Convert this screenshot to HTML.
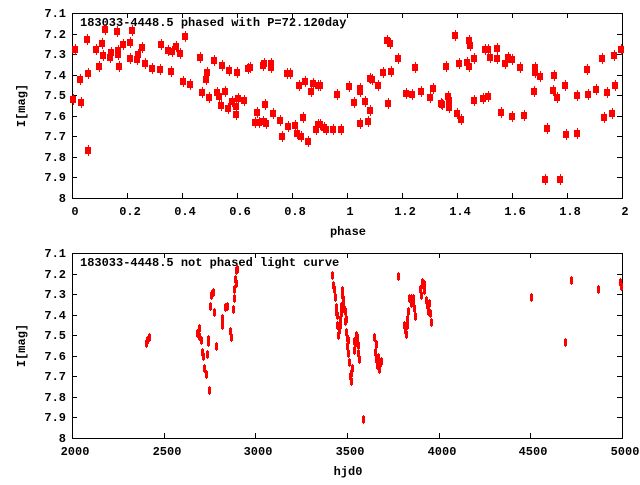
<!DOCTYPE html>
<html><head><meta charset="utf-8"><style>
html,body{margin:0;padding:0;background:#fff;}
svg text{font-family:"Liberation Mono","DejaVu Sans Mono",monospace;font-weight:bold;font-size:12px;fill:#000;}
</style></head><body>
<svg id="s" width="640" height="480" xmlns="http://www.w3.org/2000/svg" shape-rendering="crispEdges"></svg>
<script>
const S=document.getElementById('s');let h='';
function axes(top,bot,xt,title,xlabel){
  const L=72,R=622;
  h+=`<rect x="${L}.5" y="${top}.5" width="${R-L}" height="${bot-top}" fill="none" stroke="#000" stroke-width="1"/>`;
  for(let i=0;i<=9;i++){const y=Math.round(top+(bot-top)*i/9);
    h+=`<line x1="${L}" y1="${y}.5" x2="${L+5}" y2="${y}.5" stroke="#000"/><line x1="${R-5}" y1="${y}.5" x2="${R}" y2="${y}.5" stroke="#000"/>`;
    const lab=i==9?'8':(7.1+i*0.1).toFixed(1);
    h+=`<text x="66" y="${y+4}" text-anchor="end">${lab}</text>`;}
  xt.forEach((t,i)=>{const x=Math.round(L+(R-L)*i/(xt.length-1));
    h+=`<line x1="${x}.5" y1="${top}" x2="${x}.5" y2="${top+5}" stroke="#000"/><line x1="${x}.5" y1="${bot-5}" x2="${x}.5" y2="${bot}" stroke="#000"/>`;
    h+=`<text x="${x+3}" y="${bot+17}" text-anchor="middle">${t}</text>`;});
  h+=`<text x="80" y="${top+13}">${title}</text>`;
  h+=`<text x="348" y="${bot+37}" text-anchor="middle">${xlabel}</text>`;
  const cy=(top+bot)/2;
  h+=`<text x="25" y="${cy}" text-anchor="middle" transform="rotate(-90 25 ${cy})">I[mag]</text>`;
}
axes(13,198,['0','0.2','0.4','0.6','0.8','1','1.2','1.4','1.6','1.8','2'],'183033-4448.5 phased with P=72.120day','phase');
axes(253,438,['2000','2500','3000','3500','4000','4500','5000'],'183033-4448.5 not phased light curve','hjd0');
const A=[[73,99],[75,49],[80,79],[81,102],[87,39],[88,73],[88,150],[96,49],[99,66],[102,43],[103,55],[105,29],[110,57],[111,52],[117,31],[118,50],[118,54],[119,66],[123,44],[130,42],[130,58],[132,30],[137,59],[138,54],[142,47],[145,63],[152,68],[161,44],[160,69],[168,50],[171,71],[172,51],[176,46],[180,53],[183,81],[185,36],[190,84],[200,57],[202,92],[206,79],[207,72],[209,97],[214,60],[217,92],[219,96],[221,105],[222,65],[225,91],[228,108],[229,70],[232,101],[236,106],[236,114],[237,72],[238,98],[244,100],[248,68],[250,67],[255,122],[257,112],[259,122],[263,121],[263,65],[264,63],[265,104],[266,123],[271,63],[271,67],[273,113],[280,120],[282,136],[287,73],[290,73],[288,126],[295,125],[297,133],[299,85],[301,136],[303,117],[305,81],[308,141],[311,91],[313,83],[316,129],[318,85],[318,124],[320,85],[320,124],[324,127],[326,129],[333,129],[337,94],[341,129],
[349,86],[354,102],[360,88],[360,91],[360,123],[365,101],[368,121],[370,110],[370,78],[372,79],[378,85],[383,72],[388,103],[387,40],[390,43],[391,71],[398,58],[406,93],[412,94],[415,67],[421,91],[430,97],[433,88],[441,103],[442,104],[446,66],[448,96],[449,100],[449,107],[455,35],[457,113],[459,63],[461,119],[467,62],[469,66],[469,40],[470,45],[474,58],[474,100],[483,98],[485,49],[488,49],[488,96],[490,57],[497,48],[497,58],[501,112],[505,63],[508,57],[512,59],[512,116],[520,67],[524,115],[534,91],[535,67],[535,72],[540,76],[545,179],[547,128],[553,90],[554,75],[557,97],[560,179],[565,85],[566,134],[577,95],[577,133],[587,69],[588,94],[596,89],[602,58],[604,117],[607,92],[612,113],[614,55],[615,85],[621,49]];
A.forEach(p=>{h+=`<rect x="${p[0]-3}" y="${p[1]-3}" width="6" height="7" fill="#f00"/><line x1="${p[0]}.5" y1="${p[1]-5}" x2="${p[0]}.5" y2="${p[1]+6}" stroke="#f00"/>`;});
const B=[[146,343],[147,340],[149,337],[197,333],[199,328],[199,336],[201,340],[202,352],[203,356],[204,368],[206,374],[207,354],[208,339],[208,342],[209,390],[210,306],[211,295],[212,293],[213,292],[214,312],[216,346],[222,318],[222,325],[225,307],[227,306],[230,331],[231,337],[233,309],[234,298],[234,289],[235,279],[236,270],[236,283],[237,269],
[332,275],[333,285],[334,289],[335,297],[336,307],[336,312],[337,315],[337,325],[338,335],[339,330],[340,319],[340,325],[341,313],[341,306],[342,290],[342,295],[343,299],[343,303],[344,309],[345,311],[345,321],[346,319],[346,332],[347,338],[347,346],[348,340],[348,353],[349,362],[350,376],[351,381],[351,373],[352,368],[354,350],[354,341],[355,343],[356,335],[357,337],[358,345],[358,353],[359,359],[363,419],[374,337],[376,344],[375,352],[376,359],[377,365],[378,357],[379,369],[380,363],[381,361],[398,276],[404,325],[405,330],[406,334],[407,325],[407,319],[408,311],[409,298],[411,298],[411,303],[413,298],[413,303],[414,308],[415,316],[420,289],[421,295],[422,282],[423,285],[424,290],[424,284],[426,300],[427,305],[428,311],[429,303],[430,313],[431,322],[531,297],[565,342],[571,280],[598,289],[620,282],[621,286]];
B.forEach(p=>{h+=`<rect x="${p[0]-1}" y="${p[1]-3}" width="3" height="7" fill="#f00"/><line x1="${p[0]}.5" y1="${p[1]-4}" x2="${p[0]}.5" y2="${p[1]+5}" stroke="#f00"/>`;});
S.innerHTML=h;
</script>
</body></html>
